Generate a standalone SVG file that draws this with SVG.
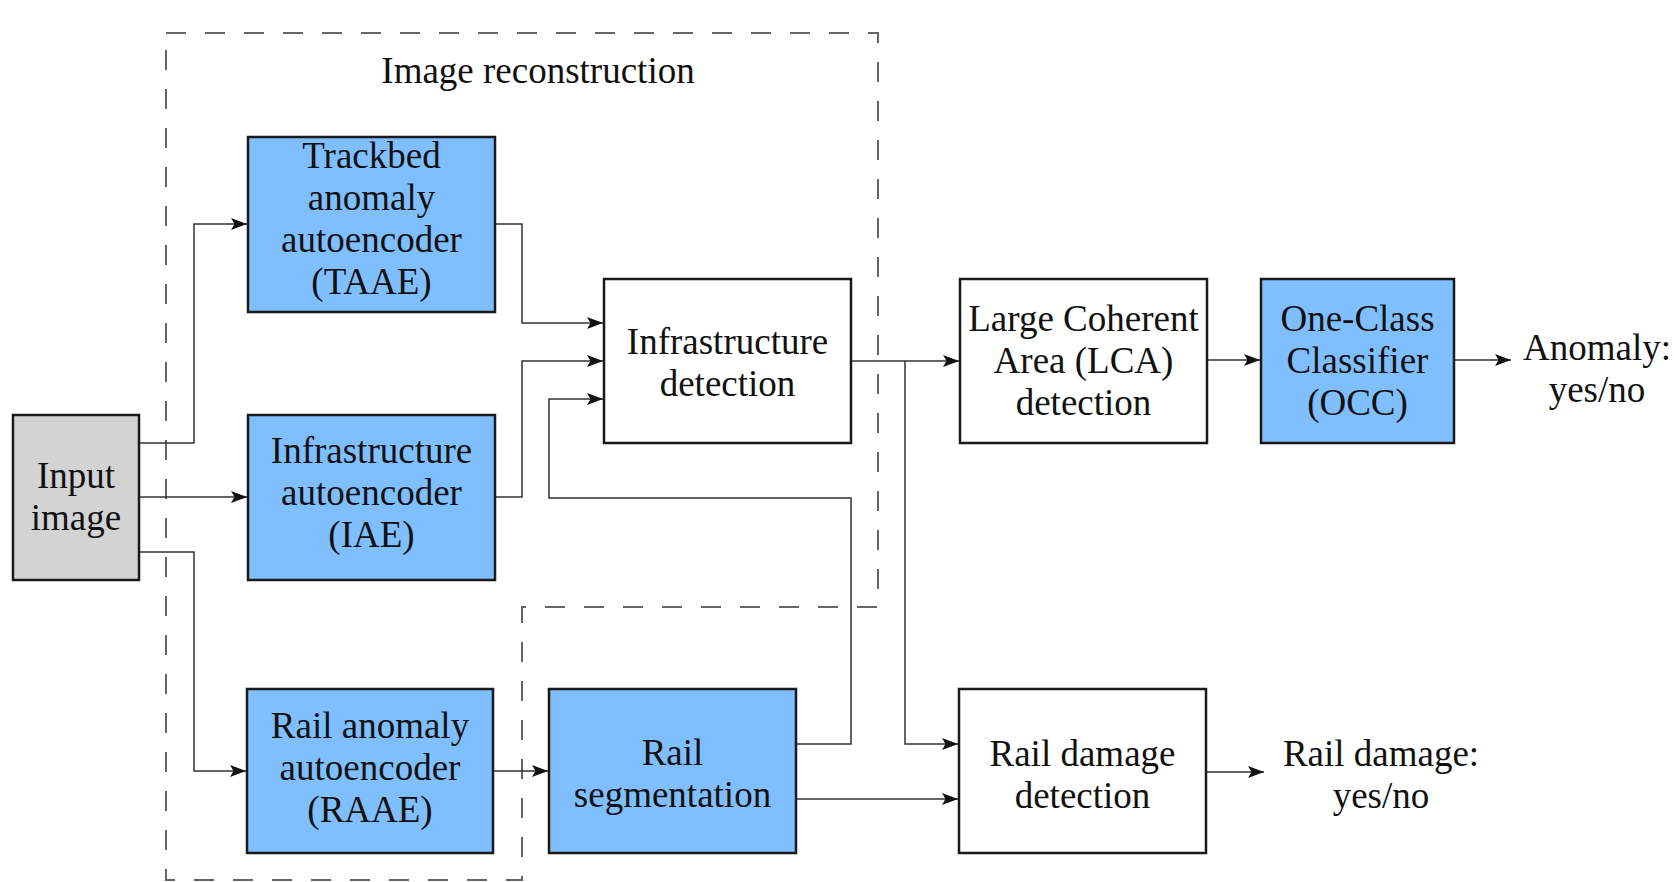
<svg xmlns="http://www.w3.org/2000/svg" width="1674" height="882" viewBox="0 0 1674 882">
<style>
.box{stroke:#1a1a1a;stroke-width:2.5}
.blue{fill:#80bfff}
.white{fill:#ffffff}
.gray{fill:#d3d3d3}
.t{font-family:"Liberation Serif","Times New Roman",serif;font-size:37px;fill:#111;text-anchor:middle}
.c{fill:none;stroke:#333;stroke-width:1.5}
.dash{fill:none;stroke:#666;stroke-width:2;stroke-dasharray:20 19}
</style>
<defs>
<marker id="arr" markerUnits="userSpaceOnUse" markerWidth="16" markerHeight="14" refX="16" refY="7" orient="auto">
<path d="M0,1 L16,7 L0,13 L3.5,7 z" fill="#111"/>
</marker>
</defs>
<rect width="1674" height="882" fill="#ffffff"/>

<g id="image-reconstruction">
<path class="dash" d="M166,33 H878 V607 H522 V880 H166 Z"/>
<text class="t" x="538" y="83">Image reconstruction</text>
</g>

<g id="connectors">
<path class="c" d="M139,443 H194 V224 H247" marker-end="url(#arr)"/>
<path class="c" d="M139,497 H247" marker-end="url(#arr)"/>
<path class="c" d="M139,552 H194 V771 H246" marker-end="url(#arr)"/>
<path class="c" d="M495,224 H522 V323 H603" marker-end="url(#arr)"/>
<path class="c" d="M495,497 H522 V361 H603" marker-end="url(#arr)"/>
<path class="c" d="M493,771 H548" marker-end="url(#arr)"/>
<path class="c" d="M796,744 H851 V498 H549 V399 H603" marker-end="url(#arr)"/>
<path class="c" d="M851,361 H959" marker-end="url(#arr)"/>
<path class="c" d="M905,361 V744 H958" marker-end="url(#arr)"/>
<path class="c" d="M796,799 H958" marker-end="url(#arr)"/>
<path class="c" d="M1207,360 H1260" marker-end="url(#arr)"/>
<path class="c" d="M1454,360 H1511" marker-end="url(#arr)"/>
<path class="c" d="M1206,772 H1264" marker-end="url(#arr)"/>
</g>

<g id="input-image">
<rect class="box gray" x="13" y="415" width="126" height="165"/>
<text class="t" x="76" y="488">Input</text>
<text class="t" x="76" y="530">image</text>
</g>

<g id="taae">
<rect class="box blue" x="248" y="137" width="247" height="175"/>
<text class="t" x="371.5" y="168">Trackbed</text>
<text class="t" x="371.5" y="210">anomaly</text>
<text class="t" x="371.5" y="252">autoencoder</text>
<text class="t" x="371.5" y="294">(TAAE)</text>
</g>

<g id="iae">
<rect class="box blue" x="248" y="415" width="247" height="165"/>
<text class="t" x="371.5" y="463">Infrastructure</text>
<text class="t" x="371.5" y="505">autoencoder</text>
<text class="t" x="371.5" y="547">(IAE)</text>
</g>

<g id="raae">
<rect class="box blue" x="247" y="689" width="246" height="164"/>
<text class="t" x="370" y="738">Rail anomaly</text>
<text class="t" x="370" y="780">autoencoder</text>
<text class="t" x="370" y="822">(RAAE)</text>
</g>

<g id="infrastructure-detection">
<rect class="box white" x="604" y="279" width="247" height="164"/>
<text class="t" x="727.5" y="354">Infrastructure</text>
<text class="t" x="727.5" y="396">detection</text>
</g>

<g id="rail-segmentation">
<rect class="box blue" x="549" y="689" width="247" height="164"/>
<text class="t" x="672.5" y="765">Rail</text>
<text class="t" x="672.5" y="807">segmentation</text>
</g>

<g id="lca-detection">
<rect class="box white" x="960" y="279" width="247" height="164"/>
<text class="t" x="1083.5" y="331">Large Coherent</text>
<text class="t" x="1083.5" y="373">Area (LCA)</text>
<text class="t" x="1083.5" y="415">detection</text>
</g>

<g id="occ">
<rect class="box blue" x="1261" y="279" width="193" height="164"/>
<text class="t" x="1357.5" y="331">One-Class</text>
<text class="t" x="1357.5" y="373">Classifier</text>
<text class="t" x="1357.5" y="415">(OCC)</text>
</g>

<g id="rail-damage-detection">
<rect class="box white" x="959" y="689" width="247" height="164"/>
<text class="t" x="1082.5" y="766">Rail damage</text>
<text class="t" x="1082.5" y="808">detection</text>
</g>

<g id="anomaly-output">
<text class="t" x="1597" y="360">Anomaly:</text>
<text class="t" x="1597" y="402">yes/no</text>
</g>

<g id="rail-damage-output">
<text class="t" x="1381" y="766">Rail damage:</text>
<text class="t" x="1381" y="808">yes/no</text>
</g>
</svg>
